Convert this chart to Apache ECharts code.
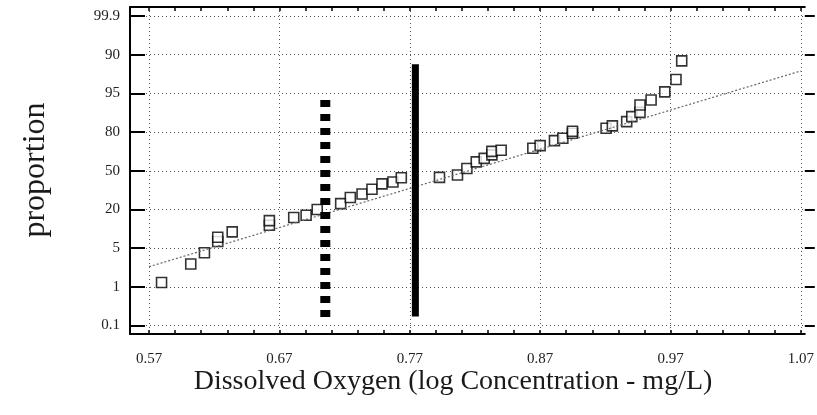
<!DOCTYPE html>
<html>
<head>
<meta charset="utf-8">
<script src="https://cdn.jsdelivr.net/npm/echarts@6/dist/echarts.min.js"></script>
<style>
html,body{margin:0;padding:0;background:#fff;}
#c{width:817px;height:415px;}
</style>
</head>
<body>
<div id="c"></div>
<script>
// ---- data ----
var yTickLabels = ['0.1','1','5','20','50','80','95','90','99.9'];
var yTickPos = [0,1,2,3,4,5,6,7,8];
var xTickLabels = [0.57,0.67,0.77,0.87,0.97,1.07];
var xMinorTicks = [0.57,0.59,0.61,0.63,0.65,0.67,0.69,0.71,0.73,0.75,0.77,0.79,0.81,0.83,0.85,0.87,0.89,0.91,0.93,0.95,0.97,0.99,1.01,1.03,1.05,1.07];

var obsX = [0.5796,0.602,0.6125,0.6227,0.6227,0.6338,0.6623,0.6623,0.681,0.6905,0.699,0.717,0.7244,0.7334,0.741,0.7487,0.7571,0.7635,0.7928,0.8066,0.8138,0.821,0.8271,0.833,0.833,0.8401,0.8644,0.87,0.881,0.8874,0.8948,0.8948,0.9206,0.9254,0.9364,0.9403,0.9466,0.9466,0.9551,0.9656,0.9742,0.9786];
var obsY = [1.11,1.59,1.88,2.17,2.28,2.42,2.59,2.71,2.79,2.85,3.0,3.15,3.31,3.40,3.52,3.66,3.71,3.82,3.83,3.89,4.06,4.23,4.32,4.41,4.50,4.53,4.58,4.65,4.78,4.84,4.97,5.02,5.10,5.16,5.27,5.40,5.51,5.70,5.83,6.04,6.36,6.84];

var fitX = [0.57,1.07];
var fitY = [1.52,6.58];

var dashedBarX = [0.7052,0.7052];
var dashedBarY = [0.22,5.83];
var solidBarX = [0.7743,0.7743];
var solidBarY = [0.23,6.75];

var xTitle = 'Dissolved Oxygen (log Concentration - mg/L)';
var yTitle = 'proportion';

function pairs(xs, ys){ return xs.map(function(x,i){ return [x, ys[i]]; }); }

var serif = '"Liberation Serif","DejaVu Serif",serif';
var gridLine = {show:true, lineStyle:{color:'#555', width:1, type:[1,3]}};
var xMin = 0.5554, xMax = 1.073, yMin = -0.22, yMax = 8.233;

var chart = echarts.init(document.getElementById('c'));
chart.setOption({
  animation:false,
  backgroundColor:'#fff',
  grid:{left:130, right:12, top:7, bottom:81, containLabel:false},
  graphic:[
    {type:'text', x:453, y:382, silent:true,
     style:{text:xTitle, fontFamily:serif, fontSize:28, fill:'#1a1a1a', textAlign:'center', textVerticalAlign:'middle'}},
    {type:'text', x:36, y:170, rotation:Math.PI/2, silent:true,
     style:{text:yTitle, fontFamily:serif, fontSize:32, fill:'#1a1a1a', textAlign:'center', textVerticalAlign:'middle'}}
  ],
  xAxis:[
    {type:'value', position:'bottom', min:xMin, max:xMax,
     axisLine:{show:true, onZero:false, lineStyle:{color:'#000', width:2}},
     axisTick:{show:true, inside:true, length:4, lineStyle:{color:'#000', width:1.5}, customValues:xMinorTicks},
     axisLabel:{show:true, customValues:xTickLabels, formatter:function(v){return v.toFixed(2);}, color:'#222', fontFamily:serif, fontSize:15, margin:18},
     splitLine:{show:false}
    },
    {type:'value', position:'bottom', min:xMin, max:xMax,
     axisLine:{show:false}, axisTick:{show:false, customValues:xTickLabels}, axisLabel:{show:false, customValues:xTickLabels},
     splitLine:gridLine},
    {type:'value', position:'top', min:xMin, max:xMax,
     axisLine:{show:true, onZero:false, lineStyle:{color:'#000', width:2}},
     axisTick:{show:true, inside:true, length:4, lineStyle:{color:'#000', width:1.5}, customValues:xMinorTicks},
     axisLabel:{show:false}, splitLine:{show:false}}
  ],
  yAxis:[
    {type:'value', position:'left', min:yMin, max:yMax,
     axisLine:{show:true, onZero:false, lineStyle:{color:'#000', width:2}},
     axisTick:{show:true, inside:true, length:15, lineStyle:{color:'#000', width:2}, customValues:yTickPos},
     axisLabel:{show:true, customValues:yTickPos, formatter:function(v){return yTickLabels[Math.round(v)];}, color:'#222', fontFamily:serif, fontSize:15, margin:10},
     splitLine:gridLine
    },
    {type:'value', position:'right', min:yMin, max:yMax,
     axisLine:{show:false},
     axisTick:{show:true, inside:false, length:10, lineStyle:{color:'#000', width:2}, customValues:yTickPos},
     axisLabel:{show:false}, splitLine:{show:false}}
  ],
  series:[
    {type:'line', xAxisIndex:0, yAxisIndex:0, data:pairs(fitX, fitY), symbol:'none', silent:true,
     lineStyle:{color:'#666', width:1.2, type:[2,2]}},
    {type:'line', xAxisIndex:0, yAxisIndex:0, data:pairs(dashedBarX, dashedBarY), symbol:'none',
     lineStyle:{color:'#000', width:10, type:[7,7], cap:'butt'}},
    {type:'line', xAxisIndex:0, yAxisIndex:0, data:pairs(solidBarX, solidBarY), symbol:'none',
     lineStyle:{color:'#000', width:7, cap:'butt'}},
    {type:'scatter', xAxisIndex:0, yAxisIndex:0, data:pairs(obsX, obsY), symbol:'rect', symbolSize:10,
     itemStyle:{color:'#fff', borderColor:'#000', borderWidth:1.6}}
  ]
});
</script>
</body>
</html>
